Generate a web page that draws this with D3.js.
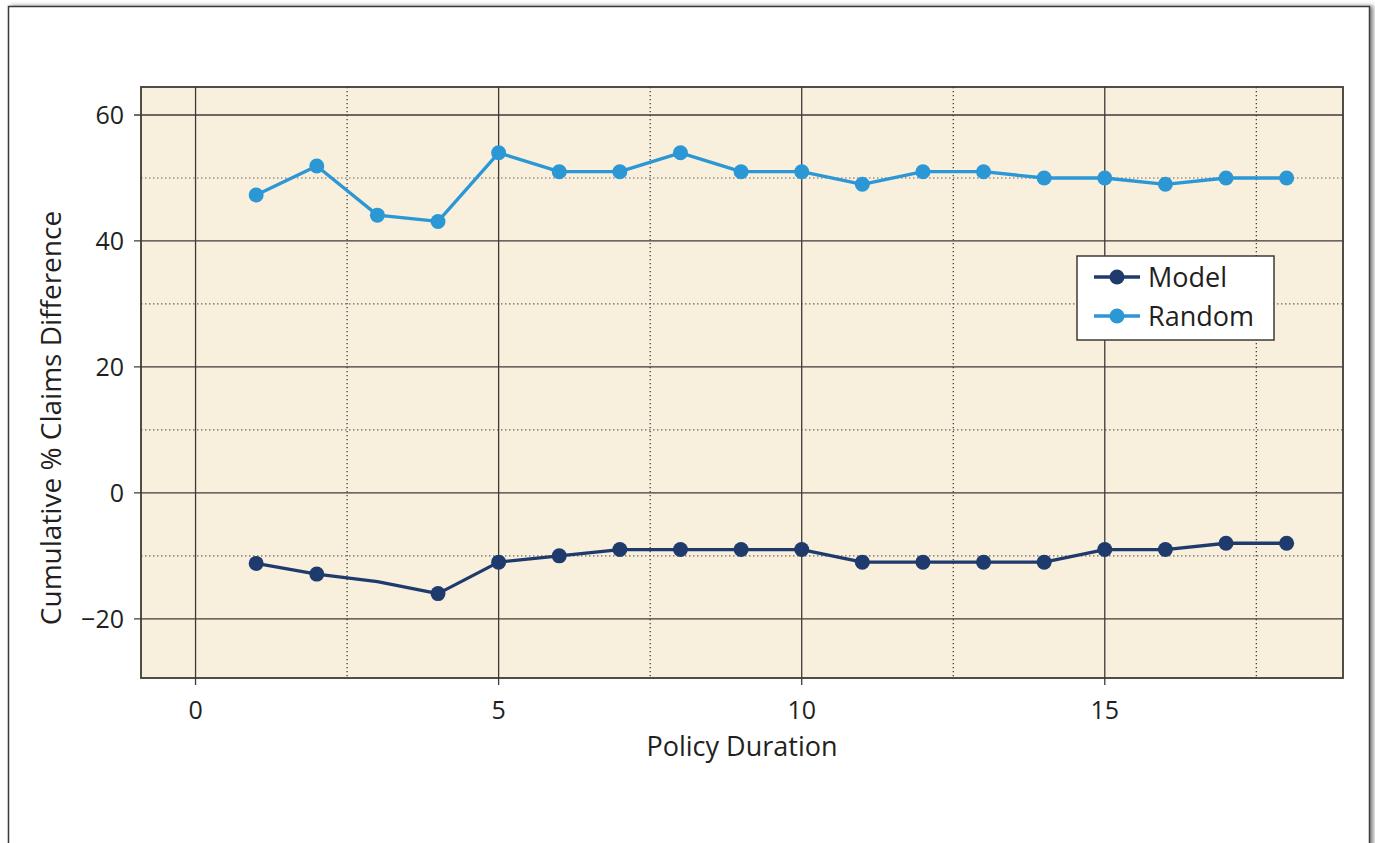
<!DOCTYPE html>
<html>
<head>
<meta charset="utf-8">
<script src="https://cdn.jsdelivr.net/npm/d3@7"></script>
<style>
    body { margin: 0; background: white; }
    text { font-family: "Open Sans", "Noto Sans", sans-serif; fill: #231f20; }
</style>
</head>
<body>
<div id="viz"></div>
<script>

// policy duration (x)
const durations = [1, 2, 3, 4, 5, 6, 7, 8, 9, 10, 11, 12, 13, 14, 15, 16, 17, 18];
// cumulative % claims difference
const modelValues = [-11.2, -12.9, -14.1, -16, -11, -10, -9, -9, -9, -9, -11, -11, -11, -11, -9, -9, -8, -8];
const randomValues = [47.3, 51.9, 44.1, 43.1, 54, 51, 51, 54, 51, 51, 49, 51, 51, 50, 50, 49, 50, 50];
// point 3 of the model line has no marker in the original
const modelMarked = [true, true, false, true, true, true, true, true, true, true, true, true, true, true, true, true, true, true];

const xTicks = [0, 5, 10, 15];
const xMinor = [2.5, 7.5, 12.5, 17.5];
const yTicks = [-20, 0, 20, 40, 60];
const yMinor = [-10, 10, 30, 50];

const seriesNames = ["Model", "Random"];
const seriesColors = ["#1f3a6d", "#2b97d5"];

const width = 1375, height = 843;
const margin = { left: 141, right: 32, top: 87, bottom: 165 };

const svg = d3.select("#viz").append("svg")
    .attr("width", width)
    .attr("height", height);

// outer frame with a soft shadow
const defs = svg.append("defs");
const f = defs.append("filter").attr("id", "shadow").attr("x", "-5%").attr("y", "-5%").attr("width", "110%").attr("height", "110%");
f.append("feDropShadow").attr("dx", 3).attr("dy", 0).attr("stdDeviation", 2).attr("flood-color", "#000").attr("flood-opacity", 0.5);

svg.append("rect")
    .attr("x", 8.5).attr("y", 6.5)
    .attr("width", 1361).attr("height", 860)
    .attr("fill", "white")
    .attr("stroke", "#3a3a3a")
    .attr("stroke-width", 1.5)
    .attr("filter", "url(#shadow)");

const x = d3.scaleLinear().domain([-0.9, 18.93]).range([margin.left, width - margin.right]);
const y = d3.scaleLinear().domain([-29.4, 64.45]).range([height - margin.bottom, margin.top]);

const plotW = x.range()[1] - x.range()[0];
const plotH = y.range()[0] - y.range()[1];

svg.append("rect")
    .attr("x", margin.left).attr("y", margin.top)
    .attr("width", plotW).attr("height", plotH)
    .attr("fill", "#f8efdd");

const grid = svg.append("g");

// minor dotted grid
grid.selectAll(".xminor")
    .data(xMinor)
    .join("line")
    .attr("x1", d => x(d)).attr("x2", d => x(d))
    .attr("y1", margin.top).attr("y2", margin.top + plotH)
    .attr("stroke", "#333")
    .attr("stroke-width", 1.2)
    .attr("stroke-dasharray", "1.2,2.8");

grid.selectAll(".yminor")
    .data(yMinor)
    .join("line")
    .attr("x1", margin.left).attr("x2", margin.left + plotW)
    .attr("y1", d => y(d)).attr("y2", d => y(d))
    .attr("stroke", "#6b665f")
    .attr("stroke-width", 1.2)
    .attr("stroke-dasharray", "1.5,2.5");

// major grid
grid.selectAll(".xmajor")
    .data(xTicks)
    .join("line")
    .attr("x1", d => x(d)).attr("x2", d => x(d))
    .attr("y1", margin.top).attr("y2", margin.top + plotH + 7)
    .attr("stroke", "#3e3a36")
    .attr("stroke-width", 1.3);

grid.selectAll(".ymajor")
    .data(yTicks)
    .join("line")
    .attr("x1", margin.left - 7).attr("x2", margin.left + plotW)
    .attr("y1", d => y(d)).attr("y2", d => y(d))
    .attr("stroke", "#3e3a36")
    .attr("stroke-width", 1.3);

svg.append("rect")
    .attr("x", margin.left).attr("y", margin.top)
    .attr("width", plotW).attr("height", plotH)
    .attr("fill", "none")
    .attr("stroke", "#3e3a36")
    .attr("stroke-width", 1.8);

// tick labels
svg.append("g").selectAll("text")
    .data(xTicks)
    .join("text")
    .attr("x", d => x(d))
    .attr("y", 719)
    .attr("text-anchor", "middle")
    .attr("font-size", 25)
    .text(d => d);

svg.append("g").selectAll("text")
    .data(yTicks)
    .join("text")
    .attr("x", 124)
    .attr("y", d => y(d) + 9)
    .attr("text-anchor", "end")
    .attr("font-size", 25)
    .text(d => d < 0 ? "\u2212" + Math.abs(d) : d);

// axis titles
svg.append("text")
    .attr("x", margin.left + plotW / 2)
    .attr("y", 756)
    .attr("text-anchor", "middle")
    .attr("font-size", 27)
    .text("Policy Duration");

svg.append("text")
    .attr("transform", "translate(61,418) rotate(-90)")
    .attr("text-anchor", "middle")
    .attr("font-size", 28)
    .text("Cumulative % Claims Difference");

// lines
const line = d3.line()
    .x(d => x(d[0]))
    .y(d => y(d[1]));

const modelData = durations.map((d, i) => [d, modelValues[i], modelMarked[i]]);
const randomData = durations.map((d, i) => [d, randomValues[i], true]);

[modelData, randomData].forEach((data, k) => {
    svg.append("path")
        .datum(data)
        .attr("fill", "none")
        .attr("stroke", seriesColors[k])
        .attr("stroke-width", 3.3)
        .attr("stroke-linejoin", "round")
        .attr("d", line);

    svg.append("g").selectAll("circle")
        .data(data.filter(d => d[2]))
        .join("circle")
        .attr("cx", d => x(d[0]))
        .attr("cy", d => y(d[1]))
        .attr("r", 7.5)
        .attr("fill", seriesColors[k]);
});

// legend
const legend = svg.append("g").attr("transform", "translate(1077,256)");
legend.append("rect")
    .attr("width", 197).attr("height", 84)
    .attr("fill", "white")
    .attr("stroke", "#3e3a36")
    .attr("stroke-width", 1.5);

const items = legend.selectAll("g")
    .data(seriesNames)
    .join("g")
    .attr("transform", (d, i) => "translate(0," + (21 + i * 39) + ")");

items.append("line")
    .attr("x1", 17).attr("x2", 63)
    .attr("stroke", (d, i) => seriesColors[i])
    .attr("stroke-width", 3.3);

items.append("circle")
    .attr("cx", 40)
    .attr("r", 7.5)
    .attr("fill", (d, i) => seriesColors[i]);

items.append("text")
    .attr("x", 71)
    .attr("y", 10)
    .attr("font-size", 27)
    .text(d => d);

</script>
</body>
</html>
